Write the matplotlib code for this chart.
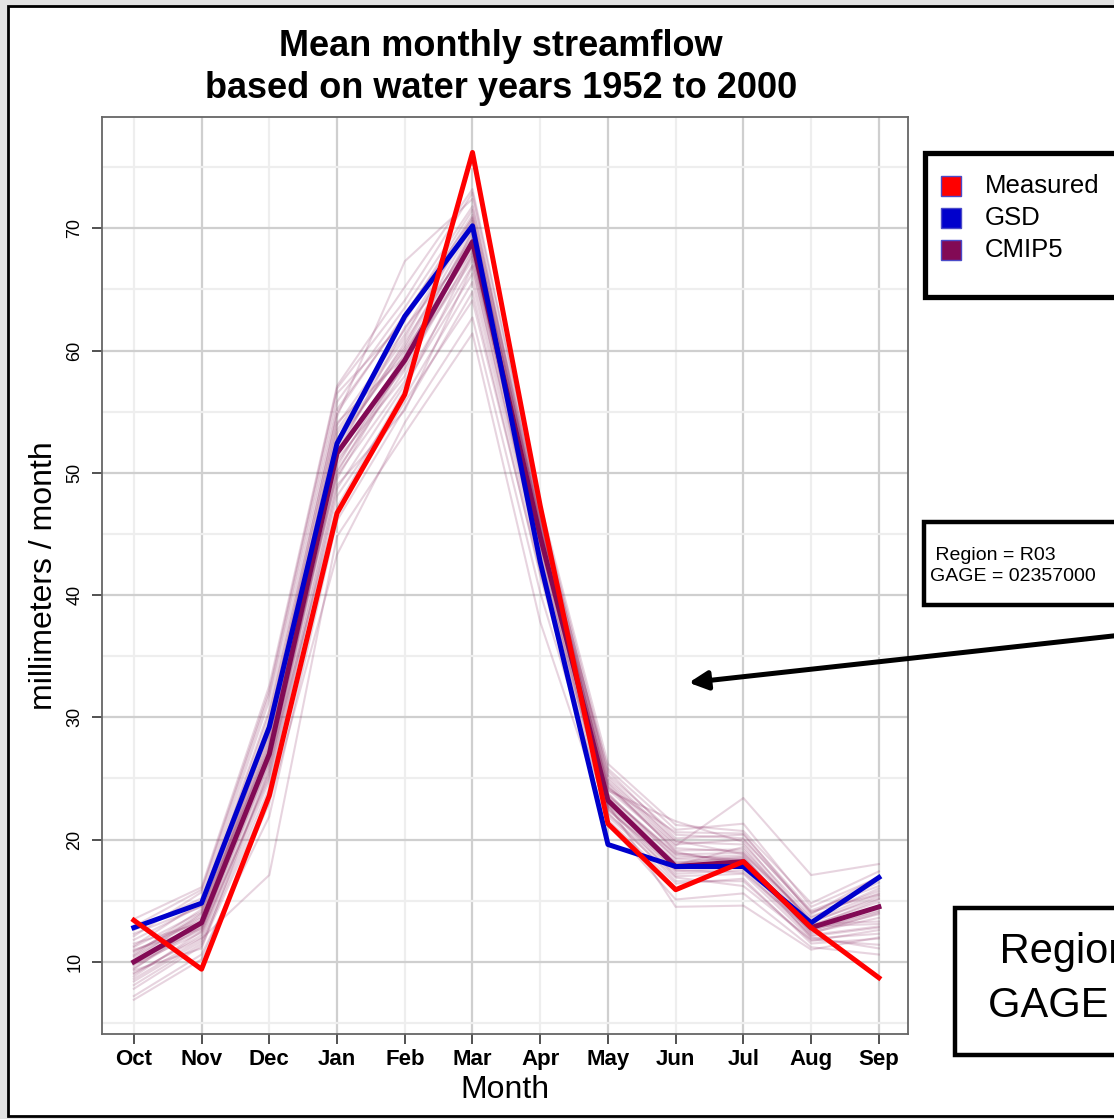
import matplotlib
matplotlib.use("Agg")
import matplotlib.pyplot as plt
from matplotlib.patches import Rectangle, FancyArrowPatch

W, H = 1114, 1119

months = ["Oct", "Nov", "Dec", "Jan", "Feb", "Mar", "Apr", "May", "Jun", "Jul", "Aug", "Sep"]

measured = [13.4, 9.4, 23.6, 46.7, 56.4, 76.2, 47.3, 21.3, 15.9, 18.2, 12.8, 8.7]
gsd = [12.8, 14.8, 29.2, 52.4, 62.8, 70.2, 42.7, 19.6, 17.8, 17.8, 13.2, 16.9]
cmip5_mean = [10.0, 13.2, 27.0, 51.6, 59.2, 68.9, 44.8, 23.2, 17.8, 18.2, 12.8, 14.5]

# individual CMIP5 model runs
cmip5_runs = [
    [9.5, 12.8, 26.5, 50.2, 58.4, 68.1, 44.0, 22.8, 18.1, 18.6, 12.6, 14.2],
    [11.2, 14.1, 29.8, 53.9, 61.7, 70.6, 45.9, 24.1, 19.3, 19.0, 13.4, 15.6],
    [8.1, 11.5, 24.2, 48.7, 57.2, 66.3, 43.1, 22.1, 17.2, 17.5, 12.1, 12.8],
    [12.6, 15.2, 31.4, 55.8, 63.5, 71.8, 46.8, 25.3, 20.4, 20.1, 14.0, 16.5],
    [10.4, 13.6, 27.9, 52.4, 60.2, 69.5, 45.2, 23.5, 18.8, 18.9, 13.0, 14.9],
    [7.2, 10.6, 21.9, 46.1, 55.3, 64.8, 41.6, 21.6, 16.4, 16.8, 11.5, 11.9],
    [13.5, 16.1, 32.6, 57.1, 65.2, 73.2, 47.5, 26.2, 21.2, 20.7, 14.8, 17.4],
    [9.0, 12.2, 25.3, 49.5, 59.1, 67.4, 44.6, 23.0, 17.6, 18.0, 12.4, 13.6],
    [10.9, 13.4, 28.4, 51.1, 57.9, 69.8, 46.1, 24.6, 19.0, 17.9, 12.9, 15.1],
    [8.6, 11.9, 17.1, 44.8, 53.2, 61.4, 37.8, 21.3, 15.1, 15.6, 11.2, 10.6],
    [11.8, 14.6, 30.3, 54.6, 67.3, 72.4, 45.4, 25.8, 20.8, 21.3, 14.5, 16.9],
    [9.8, 12.4, 26.1, 47.2, 56.8, 67.9, 43.7, 22.4, 17.9, 19.4, 13.1, 13.3],
    [10.2, 13.9, 28.9, 53.2, 61.0, 70.9, 45.6, 23.8, 18.4, 18.3, 12.7, 14.6],
    [6.9, 10.2, 23.0, 43.3, 54.1, 62.7, 40.2, 21.9, 16.9, 16.2, 11.8, 11.4],
    [12.1, 15.7, 31.9, 56.5, 62.4, 71.1, 47.0, 24.9, 19.8, 19.6, 13.7, 15.8],
    [9.3, 11.1, 25.8, 50.8, 58.9, 68.6, 44.3, 23.3, 18.5, 18.7, 12.3, 14.0],
    [10.6, 14.3, 27.5, 52.0, 60.7, 69.2, 45.8, 24.3, 19.5, 23.4, 17.1, 18.0],
    [8.4, 11.7, 24.8, 48.1, 56.2, 65.6, 42.4, 22.6, 17.0, 17.2, 11.9, 12.3],
    [11.5, 13.2, 29.2, 54.1, 59.5, 69.9, 46.4, 24.0, 21.5, 19.8, 13.2, 15.4],
    [9.7, 12.9, 26.8, 51.5, 61.9, 68.4, 44.9, 23.1, 18.2, 18.1, 12.5, 13.9],
    [10.1, 12.6, 27.3, 49.8, 57.5, 67.0, 43.4, 22.9, 14.5, 14.6, 11.0, 12.0],
    [12.9, 15.9, 32.2, 56.9, 64.1, 72.9, 47.2, 25.6, 20.1, 20.4, 14.2, 16.2],
    [9.1, 12.0, 25.6, 50.5, 59.8, 68.8, 44.4, 23.7, 18.7, 18.4, 12.8, 14.4],
    [10.8, 13.7, 28.1, 52.8, 60.4, 70.2, 45.5, 24.4, 19.1, 19.2, 13.3, 15.2],
    [7.8, 11.3, 23.6, 46.9, 55.8, 64.1, 41.9, 22.2, 16.6, 16.6, 11.7, 12.6],
    [11.3, 14.9, 30.6, 55.2, 62.8, 71.5, 46.6, 25.1, 19.9, 18.8, 13.6, 16.0],
    [9.9, 13.0, 27.0, 51.8, 58.6, 69.0, 45.0, 23.4, 18.0, 18.5, 12.9, 13.1],
    [8.8, 12.5, 25.1, 49.0, 55.1, 66.9, 43.0, 22.5, 17.4, 17.7, 12.2, 12.9],
    [10.5, 14.0, 28.6, 53.5, 61.3, 70.4, 46.0, 24.7, 19.6, 20.0, 14.1, 15.5],
    [11.0, 12.7, 26.3, 50.0, 59.3, 67.7, 44.1, 23.6, 18.9, 18.2, 12.0, 11.1],
    [9.4, 13.3, 27.7, 52.6, 60.0, 68.2, 44.7, 22.7, 17.5, 17.3, 12.6, 14.1],
    [12.3, 14.5, 29.5, 54.9, 63.0, 70.8, 46.3, 24.2, 20.6, 20.5, 13.9, 17.0],
]

series_names = ["Measured", "GSD", "CMIP5"]
series_colors = ["#ff0000", "#0000cc", "#820a55"]

region_text = " Region = R03\nGAGE = 02357000"

font = ["Liberation Sans", "DejaVu Sans"]


def fx(px):
    return px / W


def fy(py):
    return 1 - py / H


fig = plt.figure(figsize=(W / 100, H / 100), dpi=100, facecolor="#e2e2e2")

# white page with black frame
fig.add_artist(Rectangle((fx(8), fy(1116)), 1.2, fy(6) - fy(1116), transform=fig.transFigure,
                         facecolor="white", edgecolor="black", lw=2.0, zorder=0))

ax = fig.add_axes([fx(102), fy(1034), fx(908) - fx(102), fy(117) - fy(1034)])
ax.set_facecolor("white")
x = list(range(len(months)))

# grid: darker every second month, lighter in between
for i in x:
    ax.axvline(i, color="#cfcfcf" if i % 2 else "#eeeeee", lw=1.6, zorder=0)
for v in range(5, 80, 5):
    ax.axhline(v, color="#cfcfcf" if v % 10 == 0 else "#eeeeee", lw=1.6, zorder=0)

for run in cmip5_runs:
    ax.plot(x, run, color="#8b2a62", alpha=0.2, lw=1.5, zorder=1)

ax.plot(x, cmip5_mean, color=series_colors[2], lw=3.6, zorder=3)
ax.plot(x, gsd, color=series_colors[1], lw=3.6, zorder=4)
ax.plot(x, measured, color=series_colors[0], lw=3.6, zorder=5)

ax.set_xlim(-0.47, 11.43)
ax.set_ylim(4.1, 79.1)
ax.set_xticks(x)
ax.set_xticklabels(months, fontsize=16, fontweight="bold", family=font)
ax.set_yticks(range(10, 80, 10))
ax.set_yticklabels([str(v) for v in range(10, 80, 10)], fontsize=13, family=font,
                   rotation=90, va="center")
ax.tick_params(axis="both", length=7.5, width=1.2, color="#333333")
ax.tick_params(axis="x", pad=3)
ax.tick_params(axis="y", pad=6)
for s in ax.spines.values():
    s.set_color("#666666")
    s.set_linewidth(1.3)

ax.set_xlabel("Month", fontsize=23, family=font)
ax.xaxis.set_label_coords(0.5, -0.045)
ax.set_ylabel("millimeters / month", fontsize=23, family=font)
ax.yaxis.set_label_coords(-0.053, 0.5)

fig.text(fx(501), fy(46), "Mean monthly streamflow", ha="center", va="center",
         fontsize=26, fontweight="bold", family=font)
fig.text(fx(501), fy(89), "based on water years 1952 to 2000", ha="center", va="center",
         fontsize=26, fontweight="bold", family=font)

# legend box
fig.add_artist(Rectangle((fx(925), fy(297)), 0.5, fy(153) - fy(297), transform=fig.transFigure,
                         facecolor="white", edgecolor="black", lw=3.8, zorder=5))
for k, (name, col) in enumerate(zip(series_names, series_colors)):
    yc = 186 + 32 * k
    fig.add_artist(Rectangle((fx(941), fy(yc + 10)), fx(20), 20 / H, transform=fig.transFigure,
                             facecolor=col, edgecolor="#4a4ac8", lw=1.0, zorder=6))
    fig.text(fx(985), fy(yc), name, ha="left", va="center", fontsize=18.5, family=font, zorder=6)

# small region box
fig.add_artist(Rectangle((fx(924), fy(605)), 0.5, fy(522) - fy(605), transform=fig.transFigure,
                         facecolor="white", edgecolor="black", lw=3.2, zorder=5))
fig.text(fx(930), fy(566), region_text, ha="left", va="center", fontsize=14,
         family=font, linespacing=1.3, zorder=6)

# arrow toward the plot
fig.add_artist(FancyArrowPatch((fx(1140), fy(633)), (fx(686), fy(683)), transform=fig.transFigure,
                               arrowstyle="-|>", mutation_scale=28, lw=3.6, color="black", zorder=6))

# large region box
fig.add_artist(Rectangle((fx(955), fy(1055)), 0.5, fy(908) - fy(1055), transform=fig.transFigure,
                         facecolor="white", edgecolor="black", lw=3.2, zorder=5))
fig.text(fx(988), fy(979), region_text, ha="left", va="center", fontsize=30,
         family=font, linespacing=1.45, zorder=6)

fig.savefig("out.png", dpi=100, facecolor=fig.get_facecolor())
